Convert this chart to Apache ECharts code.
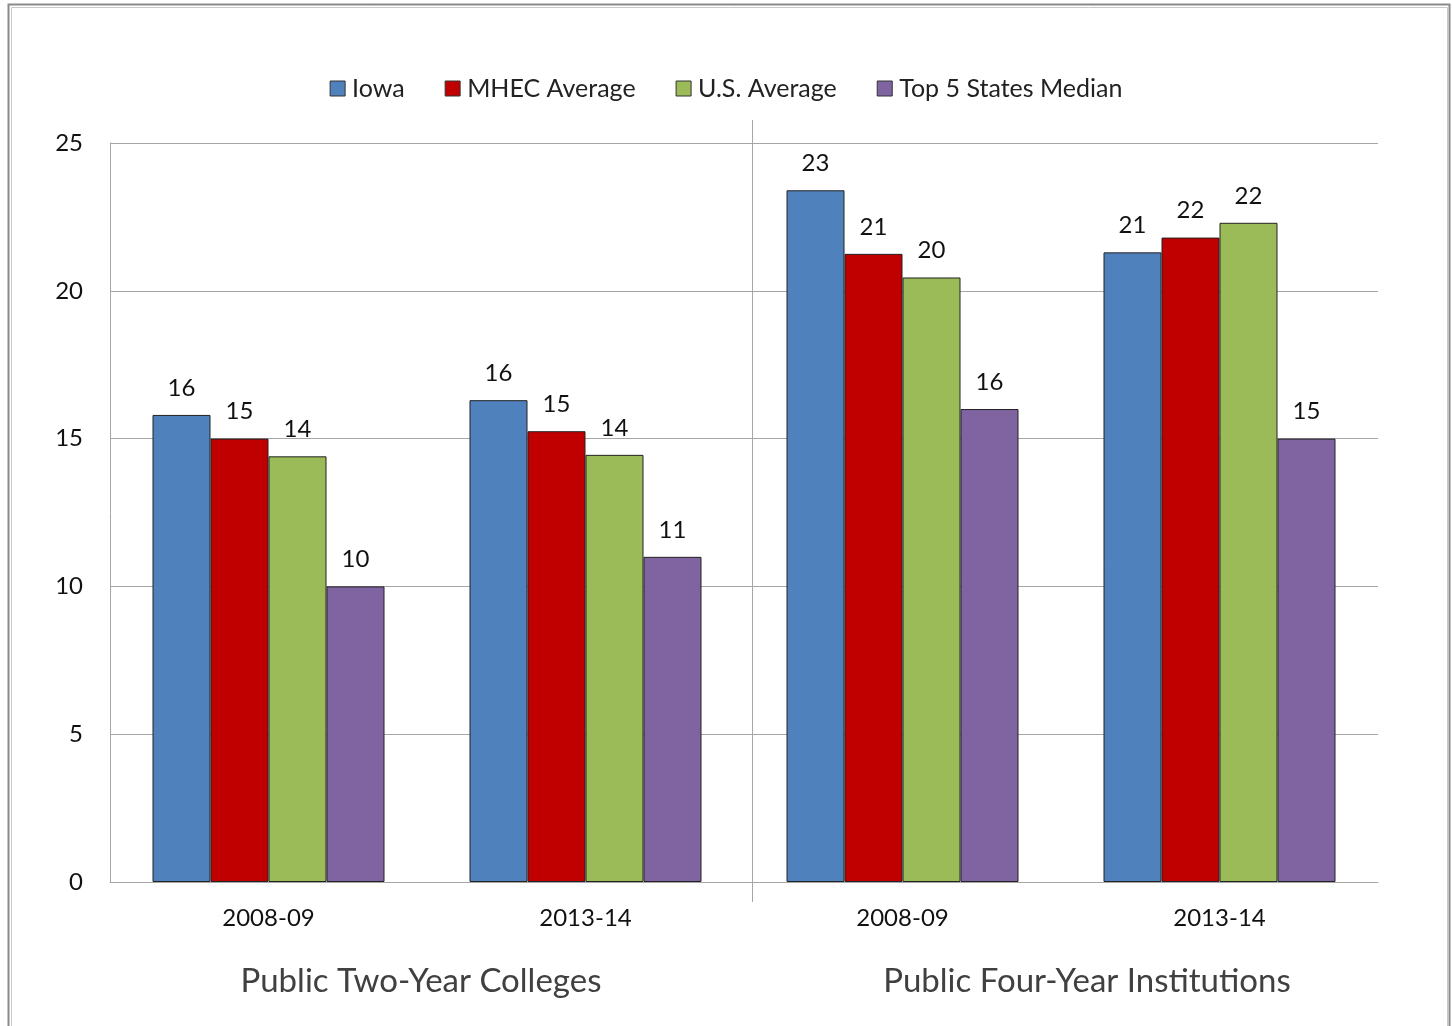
<!DOCTYPE html>
<html><head><meta charset="utf-8">
<script src="https://cdn.jsdelivr.net/npm/echarts@6/dist/echarts.min.js"></script>
<style>html,body{margin:0;padding:0;background:#fff}#c{width:1452px;height:1026px}</style>
</head><body><div id="c"></div>
<script>
const categories = ['2008-09', '2013-14', '2008-09', '2013-14'];
const groups = ['Public Two-Year Colleges', 'Public Four-Year Institutions'];
const seriesNames = ['Iowa', 'MHEC Average', 'U.S. Average', 'Top 5 States Median'];
const iowa = [15.8, 16.3, 23.4, 21.3];
const mhec = [15.0, 15.25, 21.25, 21.8];
const usAvg = [14.4, 14.45, 20.45, 22.3];
const top5 = [10.0, 11.0, 16.0, 15.0];
const yTicks = [0, 5, 10, 15, 20, 25];
const colors = ['#4F81BD', '#C00000', '#9BBB59', '#8064A2'];

const font = 'Lato, "Open Sans", sans-serif';
const chart = echarts.init(document.getElementById('c'));
const allData = [iowa, mhec, usAvg, top5];
const groupPads = [[0, 12, 0, 0], [0, 0, 0, 52]];
const option = {
  animation: false,
  textStyle: { fontFamily: font },
  legend: {
    top: 71, left: 'center', itemWidth: 15, itemHeight: 15, itemGap: 40,
    icon: 'rect',
    textStyle: { fontSize: 25, color: '#222', fontFamily: font, padding: [0, 0, 0, 2] },
    data: seriesNames.map((n, i) => ({ name: n, itemStyle: { color: colors[i], borderColor: '#333', borderWidth: 1 } }))
  },
  grid: { left: 110, right: 74, top: 143, bottom: 144, containLabel: false },
  xAxis: [{
    type: 'category', data: categories, position: 'bottom',
    axisLine: { show: true, lineStyle: { color: '#a6a6a6', width: 1 } },
    axisTick: { show: false },
    axisLabel: { fontSize: 24, color: '#111', margin: 24, fontFamily: font }
  }, {
    type: 'category', position: 'bottom', offset: 75,
    data: groups.map((g, i) => ({ value: g, textStyle: { padding: groupPads[i] } })),
    axisLine: { show: false }, axisTick: { show: false },
    axisLabel: { fontSize: 33, color: '#404040', fontFamily: font, interval: 0 }
  }],
  yAxis: {
    type: 'value', min: yTicks[0], max: yTicks[yTicks.length - 1], interval: 5,
    axisLine: { show: true, lineStyle: { color: '#a6a6a6' } },
    axisTick: { show: false },
    axisLabel: { fontSize: 24, color: '#111', margin: 27, fontFamily: font },
    splitLine: { lineStyle: { color: '#a6a6a6', width: 1 } }
  },
  series: seriesNames.map((n, i) => ({
    name: n, type: 'bar', xAxisIndex: 0, data: allData[i],
    barWidth: 58, barGap: '0%',
    itemStyle: { color: colors[i], borderColor: '#222', borderWidth: 1 },
    label: { show: true, position: 'top', distance: 15, fontSize: 24, color: '#111', fontFamily: font,
      formatter: p => Math.round(p.value) }
  }))
};
chart.setOption(option);

function drawDecor() {
  const xa = chart.convertToPixel({ xAxisIndex: 0 }, 1);
  const xb = chart.convertToPixel({ xAxisIndex: 0 }, 2);
  const sepX = Math.round((xa + xb) / 2) + 8.5;
  const yTop = chart.convertToPixel({ yAxisIndex: 0 }, 25);
  const yBot = chart.convertToPixel({ yAxisIndex: 0 }, 0);
  chart.setOption({
    graphic: [
      { type: 'line', shape: { x1: sepX, y1: yTop - 23, x2: sepX, y2: yBot + 20 }, style: { stroke: '#a6a6a6', lineWidth: 1 }, silent: true },
      { type: 'rect', shape: { x: 8.5, y: 4.5, width: 1441, height: 1040 }, style: { fill: 'none', stroke: '#8a8a8a', lineWidth: 2 }, silent: true },
      { type: 'rect', shape: { x: 11.5, y: 7.5, width: 1436, height: 1040 }, style: { fill: 'none', stroke: '#c8c8c8', lineWidth: 1 }, silent: true }
    ]
  });
}
drawDecor();
</script>
</body></html>
